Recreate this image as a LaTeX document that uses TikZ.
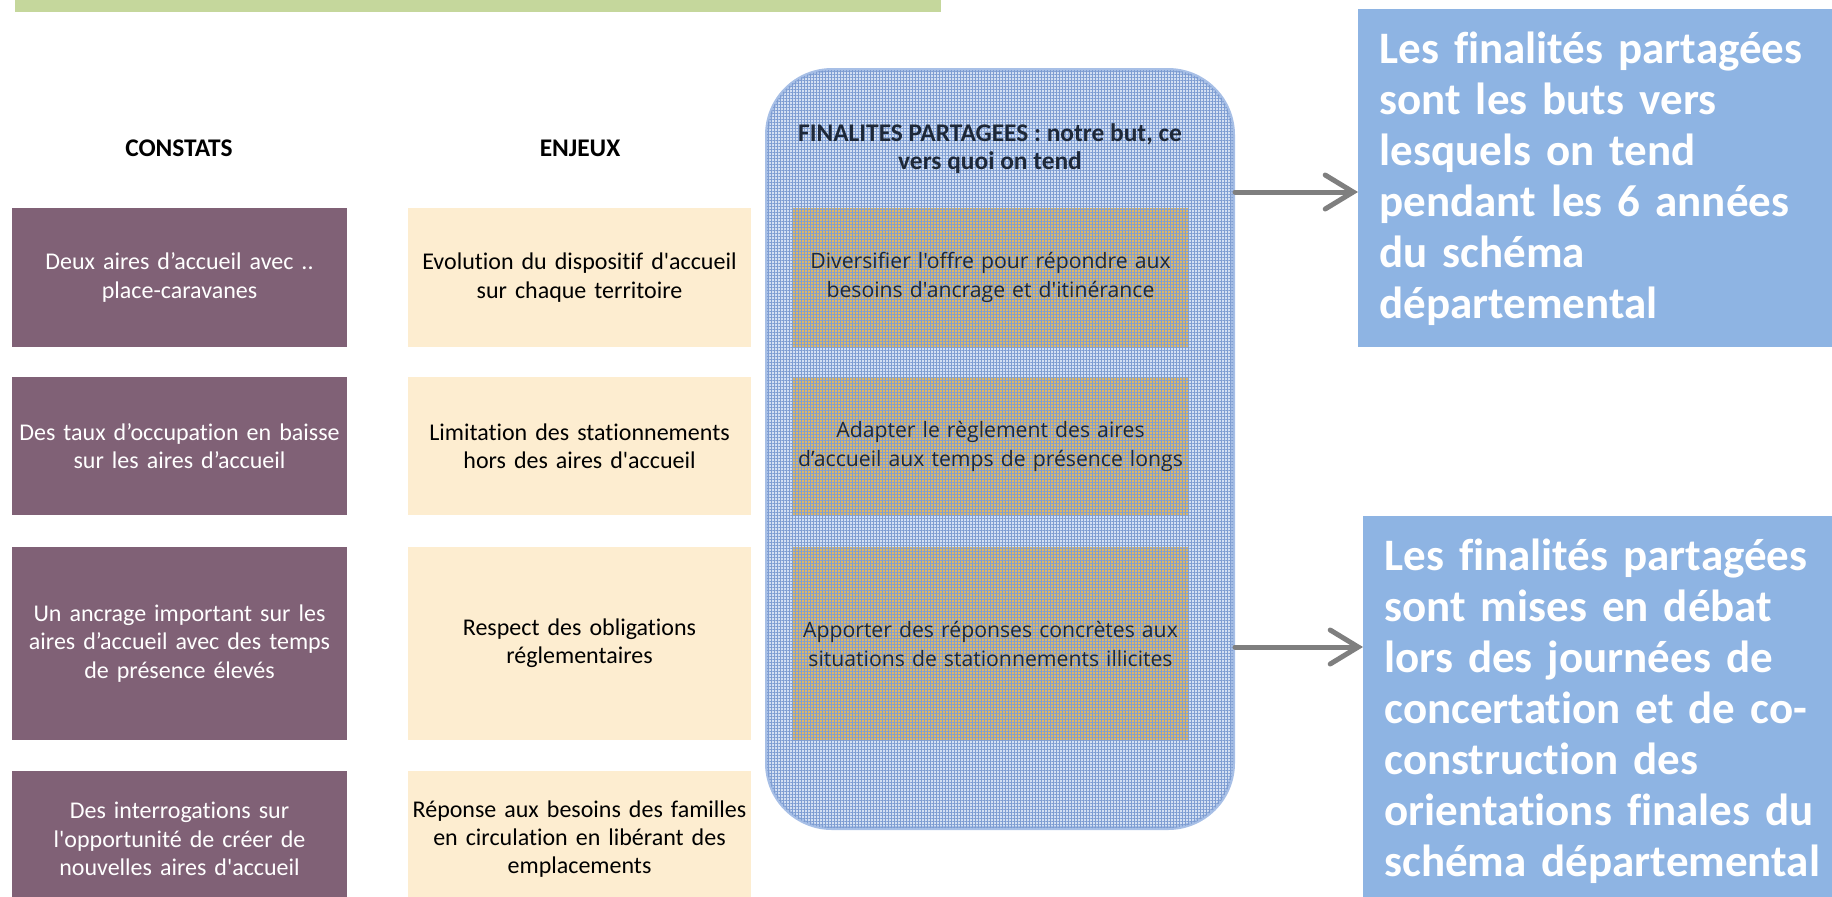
\documentclass[tikz,border=0pt]{standalone}
\usepackage{fontspec}
\setmainfont{Carlito}[Ligatures={TeXOff,NoCommon}]
\newfontfamily\opensans{Open Sans}[Ligatures={TeXOff,NoCommon}]
\usetikzlibrary{arrows.meta,patterns.meta,positioning}
\definecolor{constatfill}{HTML}{806176}
\definecolor{enjeufill}{HTML}{FDEDD0}
\definecolor{finfill}{HTML}{DDB768}
\definecolor{boxfill}{HTML}{D4E0F3}
\definecolor{boxline}{HTML}{A7BFE6}
\definecolor{gridline}{HTML}{7E9DD2}
\definecolor{notefill}{HTML}{8EB4E3}
\definecolor{barfill}{HTML}{C5D79C}
\definecolor{arrowgray}{HTML}{7F7F7F}
\definecolor{inktext}{HTML}{1E2838}
\tikzset{
	x=0.5pt, y=-0.5pt, % one unit = one pixel of the picture, y going down
	every node/.style={inner sep=0pt},
	cell/.style={align=center, font=\fontsize{12}{14.2}\selectfont},
	constat/.style={cell, fill=constatfill, text=white, minimum width=167.5pt, text width=167pt},
	enjeu/.style={cell, fill=enjeufill, text=black, minimum width=171.5pt, text width=171pt},
	grid overlay/.style={
		postaction={pattern={Lines[distance=1.5pt,angle=0,line width=0.35pt]}, pattern color=gridline},
		postaction={pattern={Lines[distance=1.5pt,angle=90,line width=0.35pt]}, pattern color=gridline}},
	finalite/.style={fill=finfill, grid overlay, text=inktext, minimum width=198.5pt, text width=198pt,
		align=center, font=\opensans\fontsize{10.6}{14.5}\selectfont},
	title/.style={align=center, font=\bfseries\fontsize{12.7}{14}\selectfont},
	note/.style={fill=notefill, text=white, anchor=north west, minimum width=241pt, text width=220pt,
		align=left, font=\bfseries\fontsize{22.5}{25.5}\selectfont},
	link/.style={draw=arrowgray, line width=2.5pt, line cap=round,
		-{Straight Barb[length=14pt,width=17pt,line cap=round]}},
	row1/.style={minimum height=69.5pt},
	row2/.style={minimum height=69pt},
	row3/.style={minimum height=96.5pt},
	row4/.style={minimum height=68pt},
}
\begin{document}
\begin{tikzpicture}
	\useasboundingbox (0,0) rectangle (1832,896);
	\fill[barfill] (15,-5) rectangle (941,12);

	\node[title] (hc) at (179,148) {CONSTATS};
	\node[title] (he) at (580,148) {ENJEUX};

	\node[constat, row1] (c1) at (179.5,277.5) {Deux aires d’accueil avec ..\\place-caravanes};
	\node[constat, row2] (c2) at (179.5,446) {Des taux d’occupation en baisse\\sur les aires d’accueil};
	\node[constat, row3] (c3) at (179.5,643.5) {Un ancrage important sur les\\aires d’accueil avec des temps\\de présence élevés};
	\node[constat, row4] (c4) at (179.5,839) {Des interrogations sur\\l'opportunité de créer de\\nouvelles aires d'accueil};

	\node[enjeu, row1] (e1) at (579.5,277.5) {Evolution du dispositif d'accueil\\sur chaque territoire};
	\node[enjeu, row2] (e2) at (579.5,446) {Limitation des stationnements\\hors des aires d'accueil};
	\node[enjeu, row3] (e3) at (579.5,643.5) {Respect des obligations\\réglementaires};
	\node[enjeu, row4] (e4) at (579.5,839) {Réponse aux besoins des familles\\en circulation en libérant des\\emplacements};

	% the shared goals
	\node[draw=boxline, line width=2pt, fill=boxfill, grid overlay, rounded corners=32.5pt,
		minimum width=233pt, minimum height=379pt] (fp) at (1000,449) {};
	\node[title, text=inktext] (hf) at (990,149) {FINALITES PARTAGEES : notre but, ce\\vers quoi on tend};
	\node[finalite, row1] (f1) at (990.5,277.5) {Diversifier l'offre pour répondre aux\\besoins d'ancrage et d'itinérance};
	\node[finalite, row2] (f2) at (990.5,446) {Adapter le règlement des aires\\d’accueil aux temps de présence longs};
	\node[finalite, row3] (f3) at (990.5,643.5) {Apporter des réponses concrètes aux\\situations de stationnements illicites};

	\node[note, minimum height=169pt] (n1) at (1358,9) {Les finalités partagées\\sont les buts vers\\lesquels on tend\\pendant les 6 années\\du schéma\\départemental};
	\node[note, minimum height=195pt] (n2) at (1363,516) {Les finalités partagées\\sont mises en débat\\lors des journées de\\concertation et de co-\\construction des\\orientations finales du\\schéma départemental};

	\coordinate (a1) at (1300,192);
	\coordinate (a2) at (1300,647);
	\draw[link] (fp.east |- a1) -- (n1.west |- a1);
	\draw[link] (fp.east |- a2) -- (n2.west |- a2);
\end{tikzpicture}
\end{document}
